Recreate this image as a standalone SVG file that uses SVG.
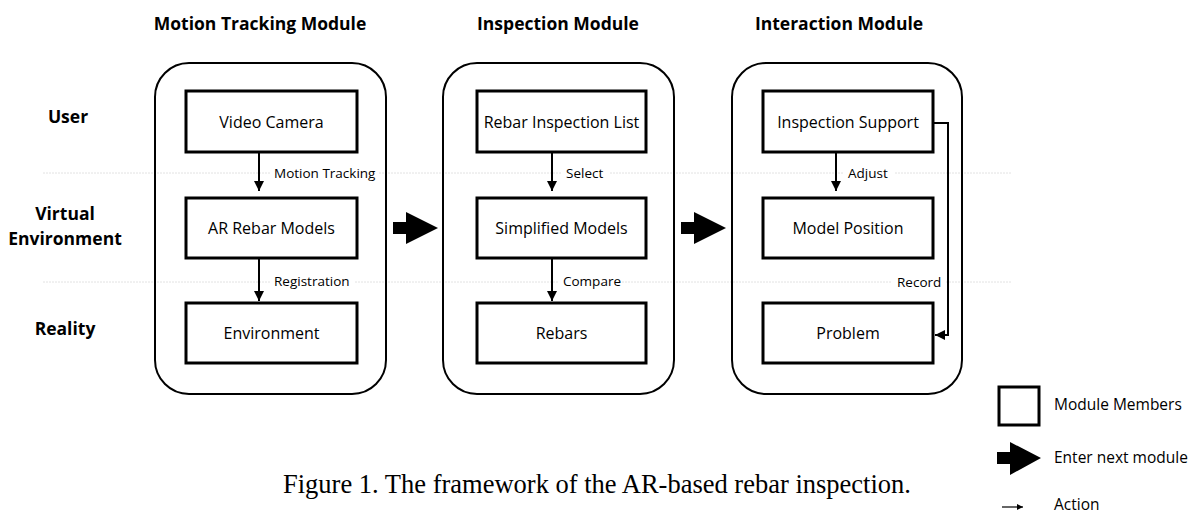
<svg xmlns="http://www.w3.org/2000/svg" width="1195" height="514" viewBox="0 0 1195 514">
<style>
.head{font-family:"Open Sans","Liberation Sans",sans-serif;font-weight:bold;font-size:17.5px;fill:#000;text-anchor:middle}
.boxt{font-family:"Open Sans","Liberation Sans",sans-serif;font-size:16px;fill:#000;text-anchor:middle}
.lbl{font-family:"Open Sans","Liberation Sans",sans-serif;font-size:13.5px;fill:#000}
.leg{font-family:"Open Sans","Liberation Sans",sans-serif;font-size:15.5px;fill:#000}
.cap{font-family:"Liberation Serif","Times New Roman",serif;font-size:26.5px;fill:#000}
.mod{fill:none;stroke:#000;stroke-width:2}
.box{fill:#fff;stroke:#000;stroke-width:3}
.act{fill:none;stroke:#000;stroke-width:2;marker-end:url(#ah)}
.grid{stroke:#e2e2e2;stroke-width:1;stroke-dasharray:2 1}
.lblbg{fill:#fff}
</style>
<defs>
<marker id="ah" viewBox="0 0 10 10" refX="10" refY="5" markerWidth="5.5" markerHeight="5" orient="auto" markerUnits="strokeWidth">
<path d="M0,0 L10,5 L0,10 Z" fill="#000"/>
</marker>
<marker id="ahs" viewBox="0 0 10 10" refX="10" refY="5" markerWidth="5" markerHeight="5" orient="auto" markerUnits="strokeWidth">
<path d="M0,0 L10,5 L0,10 Z" fill="#000"/>
</marker>
<path id="bigarrow" d="M0,-6 L13,-6 L13,-16 L45,0 L13,16 L13,6 L0,6 Z" fill="#000"/>
</defs>

<g id="grid-lines">
<line class="grid" x1="43" y1="173" x2="1012" y2="173"/>
<line class="grid" x1="43" y1="282" x2="1012" y2="282"/>
</g>

<g id="row-labels">
<text class="head" x="68" y="123">User</text>
<text class="head" x="65" y="220">Virtual</text>
<text class="head" x="65" y="245">Environment</text>
<text class="head" x="65" y="335">Reality</text>
</g>

<g id="module-motion-tracking">
<text class="head" x="260" y="30">Motion Tracking Module</text>
<rect class="mod" x="155" y="63" width="231" height="331" rx="34"/>
</g>
<g id="module-inspection">
<text class="head" x="558" y="30">Inspection Module</text>
<rect class="mod" x="443" y="63" width="231" height="331" rx="34"/>
</g>
<g id="module-interaction">
<text class="head" x="839" y="30">Interaction Module</text>
<rect class="mod" x="732" y="63" width="230" height="331" rx="34"/>
</g>

<g id="node-video-camera"><rect class="box" x="186" y="91" width="171" height="61"/><text class="boxt" x="271.5" y="128">Video Camera</text></g>
<g id="node-ar-rebar-models"><rect class="box" x="186" y="198" width="171" height="60"/><text class="boxt" x="271.5" y="234">AR Rebar Models</text></g>
<g id="node-environment"><rect class="box" x="186" y="303" width="171" height="60"/><text class="boxt" x="271.5" y="339">Environment</text></g>

<g id="node-rebar-inspection-list"><rect class="box" x="477" y="91" width="169" height="61"/><text class="boxt" x="561.5" y="128">Rebar Inspection List</text></g>
<g id="node-simplified-models"><rect class="box" x="477" y="198" width="169" height="60"/><text class="boxt" x="561.5" y="234">Simplified Models</text></g>
<g id="node-rebars"><rect class="box" x="477" y="303" width="169" height="60"/><text class="boxt" x="561.5" y="339">Rebars</text></g>

<g id="node-inspection-support"><rect class="box" x="763" y="91" width="170" height="61"/><text class="boxt" x="848" y="128">Inspection Support</text></g>
<g id="node-model-position"><rect class="box" x="763" y="198" width="170" height="60"/><text class="boxt" x="848" y="234">Model Position</text></g>
<g id="node-problem"><rect class="box" x="763" y="303" width="170" height="60"/><text class="boxt" x="848" y="339">Problem</text></g>

<g id="connectors">
<line class="act" x1="259" y1="153" x2="259" y2="191"/>
<line class="act" x1="259" y1="259" x2="259" y2="301"/>
<line class="act" x1="552" y1="153" x2="552" y2="191"/>
<line class="act" x1="552" y1="259" x2="552" y2="301"/>
<line class="act" x1="836" y1="153" x2="836" y2="191"/>
<polyline class="act" points="934,123 948,123 948,335 935,335"/>
<use href="#bigarrow" x="393" y="228"/>
<use href="#bigarrow" x="681" y="228"/>
</g>

<g id="connector-labels">
<rect class="lblbg" x="270" y="165" width="108" height="18"/>
<text class="lbl" x="274" y="178">Motion Tracking</text>
<rect class="lblbg" x="270" y="273" width="84" height="18"/>
<text class="lbl" x="274" y="286">Registration</text>
<rect class="lblbg" x="562" y="165" width="48" height="18"/>
<text class="lbl" x="566" y="178">Select</text>
<rect class="lblbg" x="559" y="273" width="60" height="18"/>
<text class="lbl" x="563" y="286">Compare</text>
<rect class="lblbg" x="844" y="165" width="50" height="18"/>
<text class="lbl" x="848" y="178">Adjust</text>
<rect class="lblbg" x="892" y="273" width="53" height="18"/>
<text class="lbl" x="897" y="287">Record</text>
</g>

<g id="legend">
<rect class="box" x="999" y="387" width="40" height="38"/>
<text class="leg" x="1054" y="410">Module Members</text>
<path d="M997,452 L1010,452 L1010,442 L1041,458 L1010,475 L1010,464 L997,464 Z" fill="#000"/>
<text class="leg" x="1054" y="463">Enter next module</text>
<line x1="1002" y1="507" x2="1023" y2="507" stroke="#000" stroke-width="1.2" marker-end="url(#ahs)"/>
<text class="leg" x="1054" y="509.5" font-size="15">Action</text>
</g>

<text class="cap" x="283" y="493">Figure 1. The framework of the AR-based rebar inspection.</text>
</svg>
